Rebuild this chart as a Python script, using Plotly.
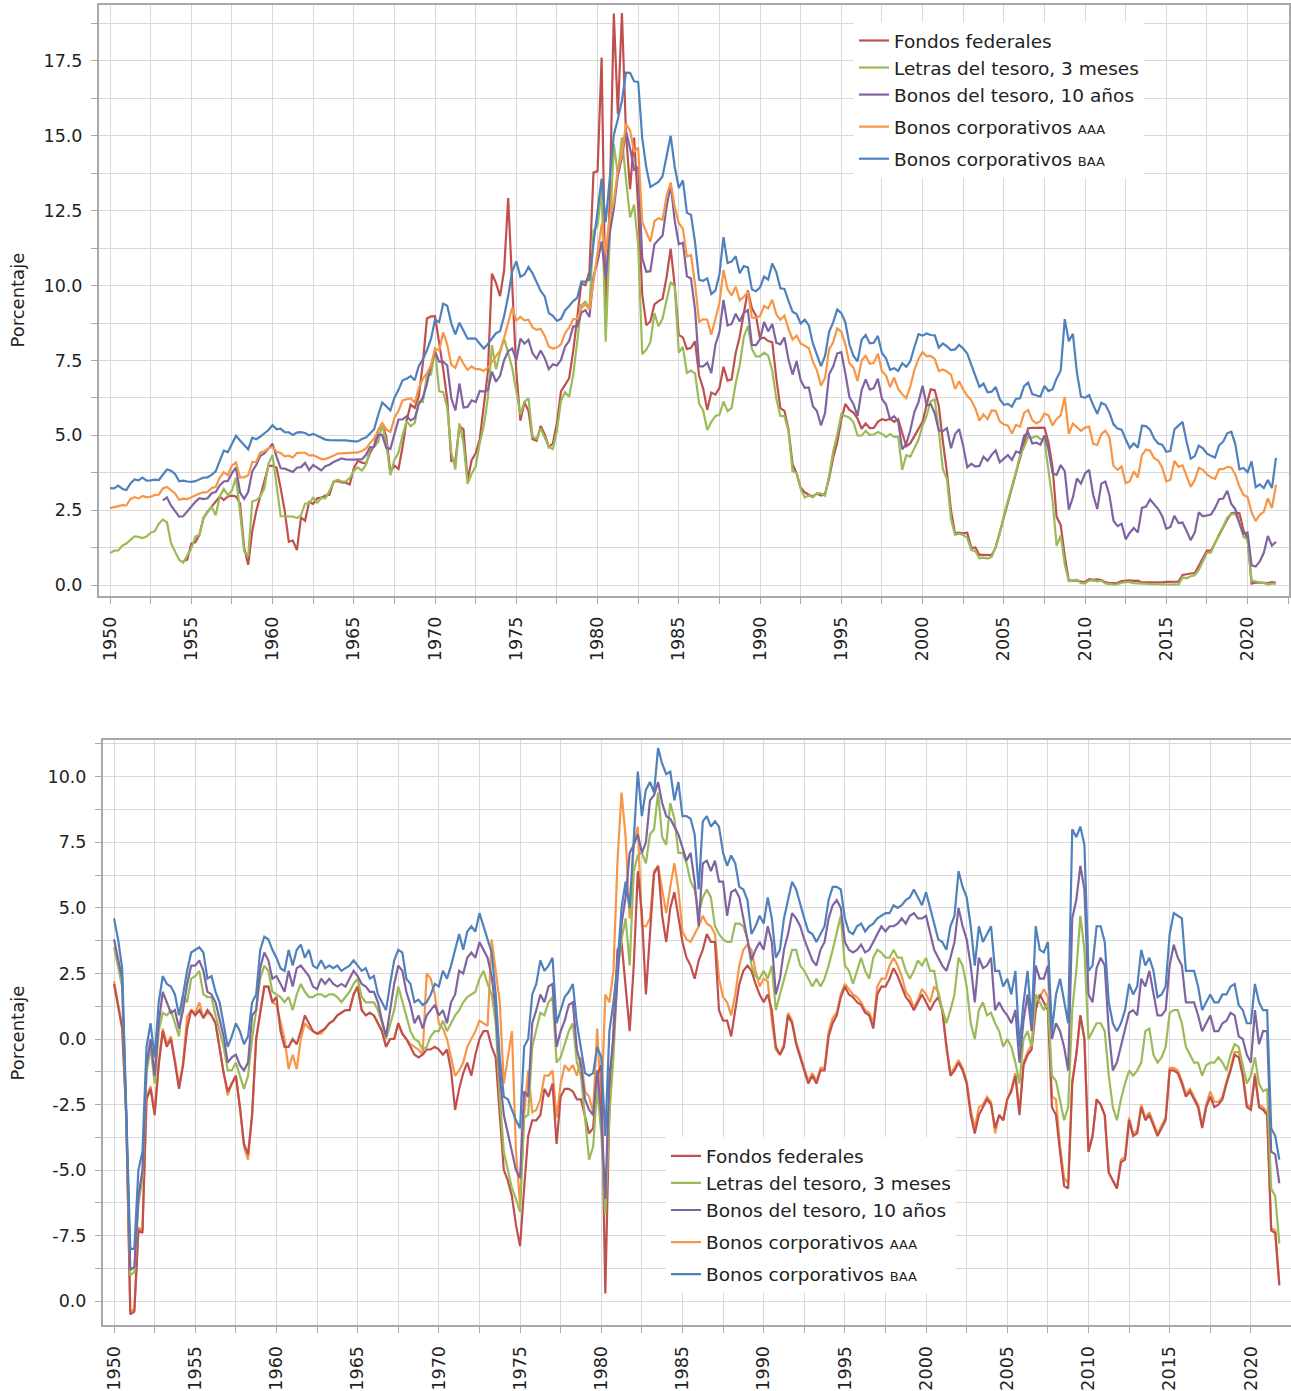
import plotly.graph_objects as go

# ---------------- data ----------------
YEARS = list(range(1950, 2022))
QUARTERS = [0, 0.25, 0.5, 0.75]

NAMES = ["Fondos federales", "Letras del tesoro, 3 meses", "Bonos del tesoro, 10 años",
         "Bonos corporativos <span style='font-size:13px'>AAA</span>",
         "Bonos corporativos <span style='font-size:13px'>BAA</span>"]

# ---- top panel: nominal rates (%), quarterly (Jan, Apr, Jul, Oct) ----
fondos_nom = [
    None, None, None, None, None, None, None, None,
    None, None, None, None, None, None, None, None,
    None, None, 0.80, 0.85, 1.39, 1.43, 1.68, 2.24,
    2.45, 2.62, 2.75, 2.96, 2.84, 2.96, 2.99, 2.96,
    2.72, 1.26, 0.68, 1.80, 2.48, 2.96, 3.47, 3.98,
    3.99, 3.92, 3.23, 2.47, 1.45, 1.49, 1.17, 2.26,
    2.15, 2.77, 2.71, 2.90, 2.92, 2.99, 3.02, 3.45,
    3.48, 3.43, 3.42, 3.36, 3.90, 4.15, 4.09, 4.06,
    4.42, 4.65, 5.17, 5.40, 4.94, 3.79, 3.99, 3.88,
    4.61, 5.50, 6.03, 5.92, 6.30, 7.41, 8.90, 8.97,
    8.98, 8.11, 7.21, 6.20, 4.14, 4.15, 5.31, 5.20,
    3.50, 4.17, 4.40, 4.87, 5.94, 7.12, 10.40, 10.09,
    9.65, 10.51, 12.92, 10.06, 7.13, 5.49, 6.10, 5.82,
    4.87, 4.82, 5.31, 5.03, 4.61, 4.73, 5.42, 6.47,
    6.70, 6.90, 7.81, 8.96, 10.07, 10.01, 10.47, 13.77,
    13.82, 17.61, 9.03, 12.81, 19.08, 15.72, 19.10, 15.08,
    13.22, 14.94, 12.59, 9.71, 8.68, 8.80, 9.37, 9.48,
    9.56, 10.29, 11.23, 9.99, 8.35, 8.27, 7.88, 7.92,
    8.14, 6.99, 6.56, 5.85, 6.43, 6.36, 6.58, 7.29,
    6.83, 6.87, 7.75, 8.30, 9.12, 9.84, 9.24, 8.99,
    8.23, 8.26, 8.15, 8.11, 6.91, 5.91, 5.82, 5.21,
    4.03, 3.73, 3.25, 3.10, 3.02, 2.96, 3.06, 2.99,
    3.05, 3.56, 4.26, 4.76, 5.53, 6.05, 5.85, 5.76,
    5.56, 5.22, 5.40, 5.24, 5.25, 5.45, 5.54, 5.50,
    5.56, 5.45, 5.54, 5.07, 4.63, 4.74, 4.99, 5.20,
    5.45, 6.02, 6.54, 6.51, 5.98, 4.80, 3.77, 2.49,
    1.73, 1.75, 1.73, 1.75, 1.24, 1.26, 1.01, 1.01,
    1.00, 1.00, 1.26, 1.76, 2.28, 2.79, 3.26, 3.78,
    4.29, 4.79, 5.24, 5.25, 5.25, 5.25, 5.26, 4.76,
    3.94, 2.28, 2.01, 0.97, 0.15, 0.15, 0.16, 0.12,
    0.11, 0.20, 0.18, 0.19, 0.17, 0.10, 0.07, 0.07,
    0.08, 0.14, 0.16, 0.16, 0.14, 0.15, 0.09, 0.09,
    0.07, 0.09, 0.09, 0.09, 0.11, 0.12, 0.13, 0.12,
    0.34, 0.37, 0.39, 0.40, 0.65, 0.90, 1.15, 1.15,
    1.41, 1.69, 1.91, 2.19, 2.40, 2.42, 2.40, 1.83,
    1.55, 0.05, 0.09, 0.09, 0.09, 0.07, 0.10, 0.08,
]
letras_nom = [
    1.07, 1.15, 1.16, 1.31, 1.39, 1.52, 1.63, 1.61,
    1.57, 1.62, 1.75, 1.80, 2.05, 2.19, 2.10, 1.40,
    1.10, 0.85, 0.75, 0.98, 1.23, 1.62, 1.68, 2.24,
    2.45, 2.62, 2.33, 2.96, 3.21, 3.00, 3.16, 3.59,
    2.44, 1.13, 0.96, 2.79, 2.84, 2.96, 3.24, 4.05,
    4.35, 3.23, 2.30, 2.30, 2.30, 2.29, 2.24, 2.33,
    2.72, 2.73, 2.92, 2.75, 2.91, 2.90, 3.14, 3.45,
    3.52, 3.46, 3.46, 3.57, 3.81, 3.93, 3.82, 4.02,
    4.58, 4.62, 4.78, 5.36, 4.72, 3.67, 4.19, 4.42,
    5.00, 5.48, 5.31, 5.42, 6.13, 6.11, 7.00, 7.03,
    7.87, 6.48, 6.44, 5.93, 4.44, 3.86, 5.40, 4.74,
    3.38, 3.72, 3.96, 4.74, 5.31, 6.26, 8.01, 7.21,
    7.76, 8.23, 7.75, 7.24, 6.49, 5.69, 6.13, 6.24,
    4.96, 4.88, 5.23, 4.92, 4.62, 4.54, 5.15, 6.16,
    6.44, 6.29, 7.01, 8.13, 9.35, 9.46, 9.24, 11.84,
    12.00, 13.20, 8.13, 11.62, 14.72, 13.69, 14.95, 13.54,
    12.28, 12.70, 11.35, 7.71, 7.86, 8.11, 9.08, 8.64,
    8.90, 9.52, 10.12, 9.97, 7.76, 7.95, 7.08, 7.16,
    7.07, 6.06, 5.83, 5.18, 5.45, 5.64, 5.69, 6.13,
    5.81, 5.92, 6.73, 7.35, 8.29, 8.65, 7.88, 7.64,
    7.64, 7.76, 7.66, 7.17, 6.22, 5.65, 5.64, 5.14,
    3.80, 3.75, 3.21, 2.93, 3.00, 2.93, 3.07, 3.06,
    2.98, 3.66, 4.46, 5.04, 5.71, 5.65, 5.59, 5.44,
    5.00, 4.99, 5.15, 5.01, 5.03, 5.11, 5.05, 4.95,
    5.04, 4.95, 4.96, 3.85, 4.34, 4.29, 4.60, 4.86,
    5.32, 5.66, 6.14, 6.20, 5.15, 3.87, 3.54, 2.20,
    1.68, 1.72, 1.68, 1.58, 1.17, 1.13, 0.90, 0.92,
    0.89, 0.94, 1.27, 1.71, 2.33, 2.79, 3.29, 3.79,
    4.34, 4.60, 4.95, 4.92, 4.98, 4.88, 4.82, 3.90,
    2.82, 1.31, 1.66, 0.69, 0.13, 0.16, 0.18, 0.07,
    0.06, 0.15, 0.16, 0.13, 0.15, 0.06, 0.04, 0.02,
    0.03, 0.08, 0.10, 0.10, 0.07, 0.06, 0.04, 0.05,
    0.04, 0.03, 0.03, 0.02, 0.03, 0.02, 0.03, 0.02,
    0.26, 0.23, 0.30, 0.33, 0.51, 0.80, 1.07, 1.09,
    1.41, 1.72, 1.96, 2.25, 2.37, 2.38, 2.08, 1.61,
    1.52, 0.14, 0.13, 0.09, 0.08, 0.02, 0.05, 0.05,
]
bonos10_nom = [
    None, None, None, None, None, None, None, None,
    None, None, None, None, None, 2.83, 2.93, 2.66,
    2.48, 2.29, 2.30, 2.46, 2.61, 2.78, 2.90, 2.87,
    2.90, 3.07, 3.11, 3.33, 3.46, 3.48, 3.74, 3.93,
    3.09, 2.88, 3.11, 3.80, 4.02, 4.32, 4.40, 4.57,
    4.72, 4.28, 3.90, 3.89, 3.84, 3.78, 3.92, 3.94,
    4.08, 3.84, 4.01, 3.93, 3.83, 3.97, 4.02, 4.11,
    4.17, 4.23, 4.20, 4.19, 4.19, 4.20, 4.20, 4.35,
    4.61, 4.62, 5.02, 5.01, 4.58, 4.55, 5.00, 5.53,
    5.53, 5.64, 5.50, 5.58, 6.04, 6.26, 6.72, 7.33,
    7.79, 7.46, 7.46, 7.33, 6.24, 5.83, 6.73, 5.93,
    5.95, 6.17, 6.11, 6.48, 6.46, 6.51, 7.13, 6.79,
    6.99, 7.51, 7.81, 7.90, 7.50, 8.23, 8.06, 8.19,
    7.74, 7.56, 7.83, 7.58, 7.21, 7.37, 7.33, 7.52,
    7.96, 8.15, 8.64, 8.64, 9.10, 9.18, 8.95, 10.30,
    10.80, 11.47, 10.25, 11.75, 12.57, 13.68, 14.28, 15.15,
    14.59, 13.87, 13.95, 10.91, 10.46, 10.48, 11.38, 11.54,
    11.67, 12.63, 13.36, 12.16, 11.38, 11.43, 10.31, 10.24,
    9.19, 7.30, 7.30, 7.43, 7.08, 8.02, 8.45, 9.52,
    8.67, 8.72, 9.06, 8.80, 9.09, 9.18, 8.02, 8.01,
    8.21, 8.79, 8.47, 8.72, 8.09, 8.04, 8.27, 7.53,
    7.03, 7.48, 6.84, 6.59, 6.60, 5.97, 5.81, 5.33,
    5.75, 7.04, 7.30, 7.74, 7.78, 7.06, 6.28, 6.04,
    5.65, 6.51, 6.87, 6.53, 6.58, 6.89, 6.22, 6.03,
    5.54, 5.64, 5.46, 4.53, 4.72, 5.18, 5.79, 6.11,
    6.66, 5.99, 6.05, 5.74, 5.16, 5.14, 5.24, 4.57,
    5.04, 5.21, 4.65, 3.94, 4.05, 3.96, 3.98, 4.29,
    4.15, 4.35, 4.50, 4.10, 4.22, 4.34, 4.18, 4.46,
    4.42, 4.99, 5.09, 4.73, 4.76, 4.69, 5.00, 4.53,
    3.74, 3.68, 4.01, 3.81, 2.52, 2.93, 3.56, 3.39,
    3.73, 3.85, 3.01, 2.54, 3.39, 3.46, 3.00, 2.15,
    1.97, 2.05, 1.53, 1.75, 1.91, 1.76, 2.58, 2.62,
    2.86, 2.71, 2.54, 2.30, 1.88, 1.94, 2.32, 2.07,
    2.09, 1.81, 1.50, 1.76, 2.43, 2.30, 2.32, 2.36,
    2.58, 2.87, 2.89, 3.15, 2.71, 2.53, 2.06, 1.71,
    1.76, 0.66, 0.62, 0.79, 1.08, 1.64, 1.32, 1.45,
]
aaa_nom = [
    2.57, 2.60, 2.65, 2.67, 2.66, 2.87, 2.94, 2.89,
    2.98, 2.93, 2.95, 3.01, 3.02, 3.23, 3.28, 3.16,
    3.06, 2.85, 2.89, 2.87, 2.93, 3.01, 3.06, 3.10,
    3.11, 3.24, 3.28, 3.59, 3.77, 3.67, 3.99, 4.10,
    3.60, 3.60, 3.67, 4.11, 4.12, 4.43, 4.47, 4.57,
    4.61, 4.45, 4.41, 4.30, 4.32, 4.26, 4.41, 4.42,
    4.42, 4.33, 4.34, 4.28, 4.21, 4.21, 4.26, 4.32,
    4.39, 4.40, 4.40, 4.42, 4.43, 4.43, 4.48, 4.56,
    4.74, 4.90, 5.16, 5.41, 5.20, 5.11, 5.58, 5.82,
    6.17, 6.21, 6.24, 6.09, 6.59, 6.89, 7.08, 7.33,
    7.91, 7.83, 8.44, 8.03, 7.36, 7.25, 7.64, 7.39,
    7.19, 7.30, 7.21, 7.21, 7.15, 7.26, 7.45, 7.60,
    7.83, 8.25, 8.72, 9.27, 8.83, 8.95, 8.84, 8.86,
    8.60, 8.52, 8.56, 8.32, 7.96, 7.90, 7.94, 8.04,
    8.41, 8.60, 8.88, 8.89, 9.25, 9.37, 9.20, 10.13,
    11.09, 12.04, 11.07, 12.31, 12.81, 13.88, 14.38, 15.40,
    15.18, 14.46, 14.61, 12.12, 11.79, 11.46, 12.15, 12.25,
    12.20, 13.00, 13.44, 12.63, 12.08, 11.90, 10.97, 11.02,
    10.05, 8.79, 8.88, 8.86, 8.36, 8.85, 9.42, 10.52,
    9.88, 9.67, 9.96, 9.51, 9.62, 9.79, 8.93, 8.92,
    8.99, 9.32, 9.24, 9.53, 9.04, 8.86, 9.00, 8.55,
    8.20, 8.33, 8.07, 7.99, 7.91, 7.46, 7.17, 6.66,
    6.92, 7.88, 8.11, 8.57, 8.46, 8.03, 7.41, 7.26,
    6.81, 7.50, 7.66, 7.39, 7.42, 7.73, 7.14, 7.00,
    6.61, 6.93, 6.55, 6.37, 6.24, 6.64, 7.19, 7.55,
    7.78, 7.64, 7.65, 7.55, 7.15, 7.20, 7.13, 7.03,
    6.55, 6.81, 6.53, 6.32, 6.17, 5.90, 5.49, 5.70,
    5.54, 5.83, 5.82, 5.47, 5.36, 5.33, 5.06, 5.35,
    5.29, 5.75, 5.85, 5.51, 5.40, 5.47, 5.73, 5.66,
    5.33, 5.55, 5.67, 6.28, 5.05, 5.39, 5.26, 5.15,
    5.26, 5.29, 4.72, 4.68, 5.04, 5.16, 4.93, 3.98,
    3.85, 3.96, 3.40, 3.47, 3.80, 3.59, 4.34, 4.53,
    4.49, 4.24, 4.16, 3.92, 3.46, 3.52, 4.15, 3.95,
    4.00, 3.62, 3.28, 3.51, 3.92, 3.85, 3.70, 3.60,
    3.55, 3.87, 3.87, 3.95, 3.93, 3.69, 3.29, 3.01,
    2.94, 2.43, 2.14, 2.35, 2.45, 2.90, 2.57, 3.35,
]
baa_nom = [
    3.24, 3.23, 3.32, 3.22, 3.17, 3.39, 3.53, 3.50,
    3.59, 3.49, 3.50, 3.52, 3.51, 3.69, 3.86, 3.82,
    3.71, 3.47, 3.49, 3.46, 3.45, 3.47, 3.52, 3.59,
    3.60, 3.68, 3.80, 4.17, 4.49, 4.44, 4.73, 4.99,
    4.83, 4.67, 4.53, 4.92, 4.87, 4.96, 5.08, 5.18,
    5.34, 5.20, 5.22, 5.11, 5.10, 5.01, 5.09, 5.11,
    5.08, 5.00, 5.05, 4.99, 4.91, 4.86, 4.84, 4.83,
    4.83, 4.83, 4.83, 4.81, 4.80, 4.80, 4.88, 4.93,
    5.06, 5.20, 5.68, 6.10, 5.97, 5.83, 6.26, 6.52,
    6.84, 6.89, 6.98, 6.84, 7.32, 7.54, 7.84, 8.22,
    8.86, 8.78, 9.40, 9.33, 8.74, 8.37, 8.76, 8.48,
    8.23, 8.24, 8.23, 8.06, 7.90, 8.05, 8.24, 8.41,
    8.48, 8.98, 9.65, 10.48, 10.81, 10.29, 10.37, 10.62,
    10.41, 10.13, 9.82, 9.64, 9.08, 8.99, 8.82, 8.89,
    9.17, 9.32, 9.48, 9.59, 10.13, 10.13, 10.20, 11.40,
    12.42, 13.57, 12.12, 13.51, 15.03, 15.56, 16.17, 17.11,
    17.10, 16.82, 16.80, 14.92, 13.94, 13.29, 13.39, 13.46,
    13.65, 14.30, 15.00, 13.96, 13.26, 13.51, 12.43, 12.36,
    11.44, 10.19, 10.16, 10.24, 9.72, 9.83, 10.38, 11.62,
    10.75, 10.80, 10.98, 10.41, 10.65, 10.61, 9.87, 9.81,
    9.94, 10.30, 10.20, 10.74, 10.45, 9.91, 9.89, 9.49,
    9.13, 9.05, 8.73, 8.86, 8.67, 8.07, 7.72, 7.31,
    7.65, 8.46, 8.77, 9.20, 9.08, 8.77, 8.04, 7.65,
    7.47, 8.19, 8.35, 8.07, 8.09, 8.32, 7.75, 7.57,
    7.19, 7.24, 7.15, 7.41, 7.29, 7.48, 7.95, 8.38,
    8.33, 8.40, 8.35, 8.34, 7.93, 8.07, 7.97, 7.85,
    7.87, 8.02, 7.90, 7.73, 7.35, 6.97, 6.62, 6.73,
    6.44, 6.46, 6.62, 6.21, 6.02, 6.05, 5.96, 6.22,
    6.24, 6.64, 6.76, 6.38, 6.34, 6.29, 6.65, 6.48,
    6.54, 6.90, 7.16, 8.88, 8.14, 8.39, 7.09, 6.29,
    6.25, 6.34, 6.01, 5.72, 6.09, 6.02, 5.76, 5.37,
    5.23, 5.19, 4.87, 4.58, 4.73, 4.59, 5.32, 5.31,
    5.19, 4.90, 4.73, 4.69, 4.45, 4.48, 5.20, 5.34,
    5.45, 4.79, 4.22, 4.31, 4.66, 4.57, 4.39, 4.32,
    4.26, 4.67, 4.79, 5.07, 5.12, 4.70, 3.87, 3.91,
    3.77, 4.13, 3.27, 3.36, 3.24, 3.51, 3.24, 4.25,
]

# ---- bottom panel: real rates (%), quarterly ----
fondos_real = [
    2.1, 1.3, 0.4, -2.9, -10.5, -10.4, -7.3, -7.4,
    -2.3, -1.9, -2.9, -1.0, 0.3, -0.3, 0.0, -0.9,
    -1.9, -1.0, 0.4, 1.1, 0.9, 1.1, 0.8, 1.1,
    0.9, 0.6, -0.4, -1.3, -2.0, -1.7, -1.4, -2.6,
    -4.0, -4.4, -2.9, 0.0, 1.0, 2.0, 2.0, 1.4,
    1.6, 0.3, -0.3, -0.3, 0.0, -0.2, 0.3, 0.9,
    0.6, 0.3, 0.2, 0.3, 0.4, 0.6, 0.7, 0.9,
    1.0, 1.1, 1.1, 1.7, 2.0, 1.1, 0.9, 1.0,
    0.9, 0.6, 0.3, -0.3, 0.0, 0.0, 0.6, 0.2,
    0.0, -0.3, -0.6, -0.7, -0.6, -0.4, -0.4, -0.3,
    -0.4, -0.6, -0.4, -1.2, -2.7, -1.9, -1.3, -0.9,
    -1.4, -0.6, 0.0, 0.3, 0.3, -0.3, -0.7, -2.9,
    -5.0, -5.4, -6.0, -7.1, -7.9, -5.7, -3.7, -3.1,
    -3.1, -2.9, -1.9, -2.2, -1.7, -4.0, -2.2, -1.9,
    -1.9, -2.0, -2.3, -2.3, -2.9, -3.6, -3.4, -1.4,
    -1.0, -9.7, -2.7, 0.6, 3.4, 3.7, 2.0, 0.3,
    2.8, 6.4, 4.8, 1.7, 4.0, 6.3, 6.6, 4.7,
    3.7, 5.0, 5.6, 4.6, 3.7, 3.1, 2.8, 2.3,
    3.0, 3.4, 4.0, 3.7, 3.7, 1.1, 0.7, 0.7,
    0.1, 1.1, 2.1, 2.6, 2.8, 2.6, 2.1, 1.7,
    1.4, 1.7, 1.1, -0.3, -0.6, -0.3, 0.9, 0.6,
    -0.2, -0.7, -1.2, -1.7, -1.4, -1.7, -1.2, -1.2,
    0.1, 0.6, 0.9, 1.6, 2.0, 1.7, 1.6, 1.4,
    1.3, 1.0, 0.9, 0.4, 1.7, 2.0, 2.0, 2.3,
    2.7, 2.4, 2.0, 1.6, 1.4, 1.1, 1.4, 1.7,
    1.4, 1.1, 1.4, 1.6, 1.1, -0.3, -1.4, -1.2,
    -0.9, -1.2, -1.7, -2.9, -3.6, -2.9, -2.6, -2.3,
    -2.5, -3.4, -2.9, -3.1, -2.3, -2.0, -1.4, -2.9,
    -1.0, -0.6, -0.4, 1.1, 1.7, 1.4, 1.1, -2.6,
    -2.9, -4.3, -5.6, -5.7, -1.7, -0.6, 0.9, 0.0,
    -4.3, -3.7, -2.3, -2.5, -2.9, -5.1, -5.4, -5.7,
    -4.7, -4.6, -3.1, -3.7, -3.6, -2.6, -3.1, -2.9,
    -3.3, -3.7, -3.4, -3.1, -1.2, -1.2, -1.3, -1.7,
    -2.2, -2.0, -2.3, -2.6, -3.4, -2.6, -2.2, -2.6,
    -2.5, -2.3, -1.7, -1.2, -0.6, -0.7, -1.4, -2.6,
    -2.7, -1.4, -2.6, -2.7, -2.9, -7.3, -7.4, -9.4,
]
letras_real = [
    3.5, 2.7, 2.0, -3.1, -9.0, -8.9, -6.3, -5.3,
    -1.3, -0.3, -1.7, 0.3, 1.0, 0.9, 1.1, 0.6,
    0.1, 1.6, 1.4, 2.3, 2.4, 2.6, 1.7, 1.6,
    1.6, 0.9, 0.3, -0.3, -1.2, -1.2, -0.9, -1.4,
    -1.9, -1.4, 0.0, 1.1, 2.3, 2.8, 2.6, 1.8,
    1.7, 1.6, 1.4, 1.6, 1.1, 1.7, 2.1, 1.8,
    1.6, 1.6, 1.7, 1.7, 1.6, 1.7, 1.7, 1.6,
    1.4, 1.6, 1.8, 2.1, 2.3, 1.6, 1.4, 1.4,
    1.4, 1.1, 0.6, 0.0, 0.6, 1.1, 2.0, 1.4,
    0.9, 0.3, 0.0, -0.1, -0.4, -0.3, 0.1, 0.3,
    0.3, 0.7, 0.3, 0.6, 0.9, 1.1, 1.4, 1.6,
    1.7, 1.8, 2.3, 2.6, 2.1, 1.7, 0.6, -2.2,
    -4.3, -5.0, -5.7, -6.1, -6.6, -3.0, -2.9, -0.3,
    0.3, 1.0, 0.9, 1.4, 1.6, -0.9, -0.7, -0.2,
    0.3, 0.6, -0.9, -1.4, -3.1, -4.6, -4.1, -1.9,
    -3.6, -6.7, -2.9, -0.7, 2.6, 3.8, 4.6, 2.8,
    6.4, 7.0, 7.1, 6.7, 7.8, 8.0, 9.4, 7.7,
    7.4, 9.0, 8.4, 7.1, 7.1, 6.7, 6.0, 5.7,
    4.8, 5.4, 5.7, 5.4, 4.3, 4.0, 3.8, 3.7,
    3.7, 4.4, 4.4, 4.3, 3.8, 2.8, 2.4, 2.3,
    2.6, 2.3, 2.8, 1.1, 1.7, 2.3, 2.8, 3.4,
    3.4, 2.8, 2.6, 2.3, 2.0, 2.3, 2.0, 2.3,
    2.8, 3.4, 4.0, 4.7, 2.8, 2.6, 2.1, 2.6,
    3.1, 2.6, 2.3, 3.1, 3.4, 3.3, 3.1, 3.1,
    3.4, 3.1, 3.1, 2.6, 2.3, 2.6, 3.0, 2.8,
    3.1, 2.6, 2.6, 1.7, 1.1, 0.6, 1.1, 1.7,
    3.1, 2.8, 2.0, 0.6, 0.0, 1.1, 1.4, 0.9,
    1.0, 0.6, 0.3, -0.3, 0.0, -0.3, -0.9, -1.7,
    0.0, 0.3, -0.3, 1.7, 1.4, 1.1, 1.4, -1.4,
    -1.6, -2.3, -3.1, -2.6, 1.1, 2.6, 4.7, 3.4,
    0.0, 0.3, 0.6, 0.6, 0.3, -1.4, -2.6, -3.1,
    -2.3, -1.7, -1.2, -1.4, -1.2, -0.9, 0.3, 0.4,
    -0.6, -0.9, -0.7, -0.3, 1.0, 1.1, 1.1, 0.6,
    -0.3, -0.6, -0.9, -0.9, -1.4, -1.0, -0.9, -0.9,
    -0.7, -0.9, -1.2, -0.6, -0.2, -0.3, -1.0, -1.7,
    -1.4, -0.7, -1.7, -2.0, -1.9, -5.7, -6.0, -7.8,
]
bonos10_real = [
    3.8, 3.0, 2.3, -2.9, -8.8, -8.7, -6.0, -5.0,
    -1.0, 0.0, -1.4, 0.6, 1.8, 1.4, 1.0, 1.1,
    0.4, 1.1, 2.1, 2.8, 2.8, 3.0, 2.6, 1.8,
    1.7, 1.4, 0.7, 0.1, -0.9, -0.7, -0.6, -1.0,
    -1.2, -0.9, 0.9, 1.1, 2.7, 3.3, 3.0, 2.3,
    2.4, 2.1, 1.8, 2.6, 2.0, 2.7, 2.8, 2.6,
    2.4, 2.0, 1.9, 2.3, 2.1, 2.3, 2.1, 2.0,
    2.1, 2.0, 2.3, 2.6, 2.4, 2.1, 2.0, 1.8,
    1.8, 1.4, 0.7, 0.1, 1.1, 2.1, 2.8, 2.6,
    1.8, 1.3, 0.6, 0.9, 0.4, 0.9, 1.1, 1.3,
    0.9, 1.1, 0.6, 1.4, 1.7, 2.6, 2.5, 3.1,
    3.3, 3.1, 3.7, 3.4, 3.1, 2.4, 1.1, -1.4,
    -2.9, -3.6, -4.3, -5.0, -5.3, -2.0, -2.2, 0.6,
    1.1, 1.7, 1.4, 2.0, 2.1, -0.3, 0.3, 0.7,
    1.3, 1.4, -0.4, -1.0, -2.3, -2.7, -2.9, -1.2,
    -2.9, -6.1, -1.4, 0.0, 2.3, 4.4, 5.4, 7.1,
    7.4, 7.8, 7.1, 7.5, 9.1, 9.3, 9.8, 9.0,
    8.5, 8.4, 8.1, 7.8, 7.3, 6.8, 7.1, 6.0,
    4.3, 6.7, 6.8, 6.4, 6.8, 6.0, 6.0, 4.7,
    5.6, 5.7, 5.4, 4.6, 3.8, 3.0, 3.4, 3.7,
    3.4, 4.3, 3.7, 1.7, 2.3, 3.4, 4.0, 4.8,
    4.6, 4.3, 3.8, 3.4, 3.0, 2.8, 3.4, 3.7,
    4.6, 5.1, 5.3, 5.0, 3.7, 3.4, 3.3, 3.4,
    3.6, 3.3, 3.4, 3.7, 4.0, 4.3, 4.1, 4.3,
    4.3, 4.4, 4.6, 4.4, 4.7, 4.8, 4.6, 4.6,
    4.7, 4.1, 3.4, 3.1, 2.8, 2.6, 3.1, 3.7,
    5.0, 4.3, 3.8, 2.8, 1.4, 3.1, 2.7, 2.8,
    3.1, 1.1, 1.4, 1.1, 0.9, 0.6, 1.1, -0.9,
    0.7, 1.7, 0.3, 2.8, 2.3, 2.3, 2.8, 0.0,
    0.6, 0.3, -0.3, -1.2, 4.6, 5.3, 6.6, 5.7,
    1.7, 1.4, 2.7, 3.1, 2.8, 0.3, -1.2, -0.9,
    -0.3, 0.4, 1.0, 1.1, 0.9, 2.3, 2.0, 2.6,
    1.7, 0.9, 0.9, 1.1, 2.8, 3.6, 3.1, 2.8,
    1.4, 1.4, 1.4, 0.9, 0.3, 0.6, 0.9, 0.3,
    0.3, 0.6, 0.7, 1.0, 0.9, 0.1, 0.0, -0.6,
    -0.9, 1.1, -0.2, 0.3, 0.3, -4.3, -4.4, -5.5,
]
aaa_real = [
    2.2, 1.4, 0.5, -2.8, -10.4, -10.3, -7.2, -7.3,
    -2.2, -1.8, -2.8, -0.9, 0.4, -0.2, 0.1, -0.8,
    -1.8, -0.9, 0.85, 1.1, 1.0, 1.4, 0.8, 1.0,
    0.9, 0.6, -0.4, -1.3, -2.15, -1.7, -1.4, -2.6,
    -4.1, -4.6, -2.9, 0.0, 1.0, 2.0, 2.0, 1.4,
    1.3, 0.6, 0.0, -1.15, -0.6, -1.15, 0.0, 0.6,
    0.4, 0.3, 0.2, 0.2, 0.4, 0.6, 0.7, 0.9,
    1.0, 1.1, 1.1, 1.7, 2.0, 1.1, 0.9, 1.0,
    0.9, 0.6, 0.3, -0.3, 0.0, 0.0, 0.6, 0.2,
    0.0, -0.2, -0.3, -0.4, -0.6, 2.5, 2.3, 1.7,
    0.6, 0.4, 0.0, -0.7, -1.4, -1.2, -0.9, -0.3,
    0.0, 0.3, 0.7, 0.6, 0.5, 3.8, 2.6, 1.4,
    -1.7, -0.6, 0.3, -4.3, -6.3, -2.9, -1.2, -2.8,
    -2.7, -2.3, -1.4, -1.4, -1.2, -3.0, -1.7, -1.0,
    -1.2, -1.0, -1.4, -0.7, -2.0, -2.2, -2.8, 0.4,
    -2.6, 1.7, 1.4, 2.6, 6.8, 9.4, 7.7, 4.6,
    7.4, 8.1, 4.3, 4.3, 4.6, 6.4, 6.6, 5.7,
    4.8, 5.8, 6.7, 5.7, 4.1, 3.8, 3.7, 4.0,
    4.3, 4.7, 4.4, 4.3, 4.0, 2.3, 1.6, 1.4,
    0.9, 1.7, 2.8, 3.4, 3.6, 3.4, 2.6, 2.0,
    2.3, 2.2, 0.7, -0.4, -0.6, -0.2, 1.0, 0.7,
    -0.1, -0.6, -1.1, -1.6, -1.3, -1.6, -1.1, -1.1,
    0.3, 0.8, 1.0, 1.7, 2.1, 1.9, 1.7, 1.6,
    1.4, 1.1, 1.0, 0.6, 2.0, 2.3, 2.3, 2.8,
    3.1, 2.8, 2.4, 1.8, 1.6, 1.2, 1.5, 1.9,
    1.7, 1.4, 2.0, 1.8, 1.1, -0.2, -1.3, -1.1,
    -0.8, -1.1, -1.6, -2.7, -3.4, -2.6, -2.5, -2.2,
    -2.4, -3.6, -2.9, -3.1, -2.3, -1.9, -1.3, -2.8,
    -0.9, -0.5, -0.2, 1.3, 1.6, 1.9, 1.6, -2.2,
    -2.3, -4.1, -5.3, -5.5, -1.6, -0.6, 0.9, 0.0,
    -4.3, -3.7, -2.3, -2.5, -2.9, -5.1, -5.4, -5.7,
    -4.6, -4.5, -3.0, -3.6, -3.5, -2.5, -3.0, -2.8,
    -3.2, -3.6, -3.3, -3.0, -1.1, -1.1, -1.2, -1.6,
    -2.1, -1.9, -2.2, -2.5, -3.3, -2.5, -2.0, -2.4,
    -2.4, -2.2, -1.6, -1.1, -0.5, -0.5, -1.3, -2.5,
    -2.6, -1.3, -2.5, -2.6, -2.8, -7.2, -7.3, -9.3,
]
baa_real = [
    4.6, 3.8, 2.7, -2.2, -8.0, -8.0, -5.0, -4.3,
    -0.3, 0.6, -0.7, 1.4, 2.4, 2.1, 2.0, 1.7,
    0.9, 1.7, 2.6, 3.3, 3.4, 3.5, 3.3, 2.3,
    2.4, 1.8, 1.4, 0.6, -0.3, 0.1, 0.6, 0.3,
    -0.2, 0.1, 1.4, 1.7, 3.4, 3.9, 3.8, 3.4,
    3.1, 2.7, 2.6, 3.4, 2.8, 3.4, 3.6, 3.1,
    3.4, 2.8, 2.7, 3.0, 2.7, 2.8, 2.7, 2.8,
    2.6, 2.7, 2.8, 3.0, 2.8, 2.6, 2.7, 2.3,
    2.4, 1.7, 1.4, 1.1, 2.1, 3.0, 3.4, 3.3,
    2.3, 2.1, 1.4, 1.5, 1.3, 1.4, 1.7, 2.1,
    2.0, 2.6, 2.3, 2.8, 3.4, 4.0, 3.4, 4.1,
    4.3, 4.1, 4.8, 4.3, 3.8, 3.3, 1.7, -0.7,
    -2.2, -2.3, -2.7, -3.1, -3.4, -0.3, 0.0, 1.7,
    2.1, 3.0, 2.6, 2.8, 3.1, 0.6, 1.1, 1.6,
    1.8, 2.1, 0.6, -0.3, -1.3, -1.4, -1.3, -0.3,
    -0.7, -3.7, 0.3, 1.4, 2.8, 5.0, 6.0, 5.0,
    7.8, 10.2, 8.5, 9.5, 9.8, 9.4, 11.1, 10.5,
    10.1, 10.2, 9.1, 9.8, 8.5, 8.5, 8.4, 7.8,
    5.7, 8.3, 8.5, 8.1, 8.3, 8.1, 7.1, 6.6,
    7.0, 6.7, 5.8, 5.7, 5.3, 4.0, 4.3, 4.7,
    4.4, 5.4, 4.6, 3.1, 3.4, 4.6, 5.3, 6.0,
    5.7, 5.1, 4.6, 4.1, 4.0, 3.7, 4.0, 4.3,
    5.3, 5.8, 5.8, 5.7, 4.6, 4.1, 4.0, 4.3,
    4.4, 4.1, 4.3, 4.4, 4.6, 4.7, 4.8, 4.8,
    5.1, 5.0, 5.1, 5.3, 5.4, 5.7, 5.4, 5.1,
    5.6, 5.0, 4.3, 3.8, 3.7, 3.4, 4.3, 4.7,
    6.4, 5.8, 5.4, 4.3, 2.8, 4.3, 3.7, 4.0,
    4.3, 2.6, 2.6, 2.0, 2.3, 1.7, 2.6, -0.3,
    1.4, 2.6, 0.6, 4.3, 3.4, 3.3, 3.7, 0.3,
    1.7, 2.3, 1.4, 0.6, 8.0, 7.7, 8.1, 7.4,
    2.6, 2.8, 4.3, 4.3, 3.7, 1.4, 0.6, 0.3,
    0.6, 1.1, 2.1, 1.7, 2.0, 3.4, 2.8, 3.1,
    2.6, 1.6, 1.7, 2.0, 4.0, 4.8, 4.7, 4.6,
    2.6, 2.6, 2.6, 2.0, 1.1, 1.4, 1.7, 1.4,
    1.4, 1.7, 1.7, 2.0, 2.1, 1.3, 1.1, 0.6,
    0.6, 2.1, 1.4, 1.1, 1.1, -3.4, -3.7, -4.6,
]

YTICKS_BOTTOM = [-10, -7.5, -5, -2.5, 0, 2.5, 5, 7.5, 10]
YTICKTEXT_BOTTOM = ["0.0", "-7.5", "-5.0", "-2.5", "0.0", "2.5", "5.0", "7.5", "10.0"]

# ---------------- figure ----------------
dates = [y + q for y in YEARS for q in QUARTERS]
for arr in (fondos_nom, letras_nom, bonos10_nom, aaa_nom, baa_nom,
            fondos_real, letras_real, bonos10_real, aaa_real, baa_real):
    assert len(arr) == len(dates), len(arr)

COLORS = ["#C0504D", "#9BBB59", "#8064A2", "#F79646", "#4F81BD"]
GROUPS = ["g1", "g1", "g1", "g2", "g3"]
W, H = 1291, 1391
FONT = "DejaVu Sans, Verdana, sans-serif"

fig = go.Figure()
top = [fondos_nom, letras_nom, bonos10_nom, aaa_nom, baa_nom]
for i, vals in enumerate(top):
    fig.add_trace(go.Scatter(
        x=dates, y=vals, mode="lines", name=NAMES[i],
        line=dict(color=COLORS[i], width=2.2),
        xaxis="x", yaxis="y", legend="legend",
        legendgroup=GROUPS[i], legendrank=i + 1))

bottom = [fondos_real, letras_real, bonos10_real, aaa_real, baa_real]
for i in [3, 0, 1, 2, 4]:
    fig.add_trace(go.Scatter(
        x=dates, y=bottom[i], mode="lines", name=NAMES[i],
        line=dict(color=COLORS[i], width=2.2),
        xaxis="x2", yaxis="y2", legend="legend2",
        legendgroup=GROUPS[i] + "b", legendrank=i + 1))

GRID = "#d9d9d9"
AXC = "#a9a9a9"

def xstyle(domain, rng, anchor, mirror):
    return dict(domain=domain, range=rng, anchor=anchor,
                tickmode="linear", tick0=1950, dtick=5, tickangle=-90,
                showline=True, linecolor=AXC, linewidth=2, mirror=mirror,
                ticks="outside", ticklen=6, tickcolor=AXC, tickwidth=1,
                ticklabelstandoff=6,
                showgrid=True, gridcolor=GRID, gridwidth=1, zeroline=False,
                tickfont=dict(size=17.5, color="#222"),
                minor=dict(tick0=1950, dtick=2.5, showgrid=True, gridcolor=GRID,
                           gridwidth=1, ticks="outside", ticklen=6, tickcolor=AXC))

def ystyle(domain, rng, anchor, mirror, **extra):
    d = dict(domain=domain, range=rng, anchor=anchor,
             showline=True, linecolor=AXC, linewidth=2, mirror=mirror,
             ticks="outside", ticklen=6, tickcolor=AXC, tickwidth=1,
             ticklabelstandoff=5,
             showgrid=True, gridcolor=GRID, gridwidth=1, zeroline=False,
             tickfont=dict(size=17.5, color="#222"),
             minor=dict(tick0=0, dtick=1.25, showgrid=True, gridcolor=GRID,
                        gridwidth=1, ticks="outside", ticklen=6, tickcolor=AXC))
    d.update(extra)
    return d

fig.update_layout(
    width=W, height=H, margin=dict(l=0, r=0, t=0, b=0),
    paper_bgcolor="white", plot_bgcolor="white",
    font=dict(family=FONT, size=17, color="#222"),
    xaxis=xstyle([99 / W, 1289 / W], [1949.32, 2022.55], "y", True),
    yaxis=ystyle([1 - 596.5 / H, 1 - 5.5 / H], [-0.35, 19.35], "x", True,
                 tickmode="linear", tick0=0, dtick=2.5, tickformat=".1f"),
    xaxis2=xstyle([103 / W, 1.0], [1949.32, 2022.47], "y2", True),
    yaxis2=ystyle([1 - 1327 / H, 1 - 740.6 / H], [-10.91, 11.42], "x2", False,
                  tickmode="array", tickvals=YTICKS_BOTTOM, ticktext=YTICKTEXT_BOTTOM),
    legend=dict(x=854 / W, y=1 - 22 / H, xanchor="left", yanchor="top",
                bgcolor="white", borderwidth=0, font=dict(size=18.5, color="#222"),
                traceorder="grouped", tracegroupgap=5, itemwidth=30),
    legend2=dict(x=666 / W, y=1 - 1139 / H, xanchor="left", yanchor="top",
                 bgcolor="white", borderwidth=0, font=dict(size=18.5, color="#222"),
                 traceorder="grouped", tracegroupgap=5, itemwidth=30),
    annotations=[
        dict(text="Porcentaje", x=18 / W, y=1 - 301 / H, xref="paper", yref="paper",
             showarrow=False, textangle=-90, xanchor="center", yanchor="middle",
             font=dict(size=18, color="#222")),
        dict(text="Porcentaje", x=18 / W, y=1 - 1035 / H, xref="paper", yref="paper",
             showarrow=False, textangle=-90, xanchor="center", yanchor="middle",
             font=dict(size=18, color="#222")),
    ],
    showlegend=True,
)

fig.write_html("out.html", config={"displayModeBar": False},
               post_script="document.body.style.margin='0';")
